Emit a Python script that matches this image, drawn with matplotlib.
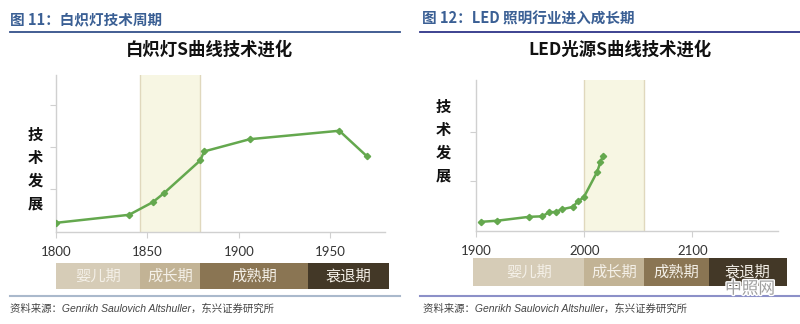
import matplotlib.pyplot as plt
import matplotlib.patheffects as pe
from matplotlib.transforms import blended_transform_factory
from matplotlib.patches import Rectangle

plt.rcParams['font.family'] = ['Noto Sans CJK SC', 'DejaVu Sans']

# ---- data ----
# left: incandescent lamp S-curve
inc_years = [1800, 1840, 1853, 1859, 1879, 1881, 1906, 1955, 1970]
inc_level = [0.21, 0.40, 0.70, 0.91, 1.69, 1.90, 2.19, 2.39, 1.79]
inc_ticks = [1800, 1850, 1900, 1950]
inc_band = (1846, 1879)
inc_phase_edges = [1800, 1846, 1879, 1938, 1982]

# right: LED S-curve
led_years = [1905, 1919, 1949, 1961, 1967.5, 1974, 1979, 1989.5, 1994, 1999.5, 2012, 2015, 2017.5]
led_level = [0.18, 0.20, 0.28, 0.29, 0.37, 0.38, 0.43, 0.48, 0.59, 0.67, 1.19, 1.39, 1.51]
led_ticks = [1900, 2000, 2100]
led_band = (2000, 2055)
led_phase_edges = [1897.5, 2000, 2055, 2115, 2187]

phase_names = ['婴儿期', '成长期', '成熟期', '衰退期']
phase_colors = ['#d6ccb7', '#c2b395', '#8a7553', '#433827']

W, H = 800, 324
fig = plt.figure(figsize=(8, 3.24), dpi=100)


def fx(px):
    return px / W


def fy(py):
    return 1 - py / H


def draw_panel(box, years, level, ticks, xlim, ylim, band, edges, bar_y, ylab_x, ylab_y0):
    x0, y0, x1, y1 = box
    ax = fig.add_axes([fx(x0), fy(y1), fx(x1) - fx(x0), (y1 - y0) / H])
    ax.axvspan(band[0], band[1], facecolor='#f7f6e3', edgecolor='none', zorder=0)
    for b in band:
        ax.axvline(b, color='#e0d8bd', linewidth=1.0, zorder=0)
    ax.plot(years, level, color='#64a84e', linewidth=1.8, marker='D', markersize=3.2, zorder=3)
    ax.set_xlim(*xlim)
    ax.set_ylim(*ylim)
    ax.set_xticks(ticks)
    ax.set_xticklabels([str(t) for t in ticks], fontsize=9.5, color='#333333', family='Lato')
    ax.set_yticks([1, 2, 3] if ylim[1] > 3.2 else [1, 2])
    ax.set_yticklabels([])
    ax.tick_params(axis='x', length=4, color='#d0d0d0', pad=6)
    ax.tick_params(axis='y', length=4, color='#d0d0d0')
    for s in ['top', 'right']:
        ax.spines[s].set_visible(False)
    for s in ['left', 'bottom']:
        ax.spines[s].set_color('#d0d0d0')
        ax.spines[s].set_linewidth(1.0)
    ax.patch.set_alpha(0)

    # phase bar under the axis
    tr = blended_transform_factory(ax.transData, fig.transFigure)
    for i, name in enumerate(phase_names):
        a, b = edges[i], edges[i + 1]
        fig.patches.append(Rectangle((a, fy(bar_y[1])), b - a, (bar_y[1] - bar_y[0]) / H,
                                     transform=tr, facecolor=phase_colors[i],
                                     edgecolor='none', figure=fig))
        fig.text((a + b) / 2, fy((bar_y[0] + bar_y[1]) / 2), name, transform=tr,
                 ha='center', va='center', fontsize=11, color='#f4f0e8')

    # stacked y label
    for k, ch in enumerate('技术发展'):
        fig.text(fx(ylab_x), fy(ylab_y0 + 23 * k), ch, ha='center', va='center',
                 fontsize=11, fontweight='bold', color='#111111')
    return ax


draw_panel((56, 75, 385, 231.7), inc_years, inc_level, inc_ticks, (1800, 1980), (0, 3.71),
           inc_band, inc_phase_edges, (262.7, 289.3), 35, 135)
draw_panel((476, 80, 778, 230.7), led_years, led_level, led_ticks, (1900, 2179), (0, 3.04),
           led_band, led_phase_edges, (258.3, 285.7), 443, 107)

# headers
fig.text(fx(10), fy(19), '图 11：白炽灯技术周期', ha='left', va='center', fontsize=10.5,
         fontweight='bold', color='#3a5f94')
fig.text(fx(422), fy(19), '图 12：LED 照明行业进入成长期', ha='left', va='center', fontsize=10.5,
         fontweight='bold', color='#3a5f94')
fig.add_artist(plt.Line2D([fx(10), fx(400)], [fy(32), fy(32)], color='#34508a', linewidth=1.3))
fig.add_artist(plt.Line2D([fx(420), fx(800)], [fy(32), fy(32)], color='#2e3488', linewidth=1.3))

# chart titles
fig.text(fx(210), fy(50), '白炽灯S曲线技术进化', ha='center', va='center', fontsize=12.5,
         fontweight='bold', color='#111111')
fig.text(fx(620), fy(50), 'LED光源S曲线技术进化', ha='center', va='center', fontsize=12.5,
         fontweight='bold', color='#111111')

# source lines
fig.add_artist(plt.Line2D([fx(10), fx(400)], [fy(296), fy(296)], color='#aab9cc', linewidth=1.5))
fig.add_artist(plt.Line2D([fx(420), fx(800)], [fy(296), fy(296)], color='#8c90c8', linewidth=1.5))
src = '资料来源：Genrikh Saulovich Altshuller，东兴证券研究所'
for sx in (10, 423):
    fig.text(fx(sx), fy(309), src, ha='left', va='center', fontsize=7.5, style='italic',
             color='#444444', family=['Liberation Sans', 'Noto Sans CJK SC'])

# watermark
fig.text(fx(750), fy(289), '中照网', ha='center', va='center', fontsize=12, color='#a0a0a0',
         path_effects=[pe.withStroke(linewidth=2, foreground='white')])

fig.savefig('out.png', dpi=100)
